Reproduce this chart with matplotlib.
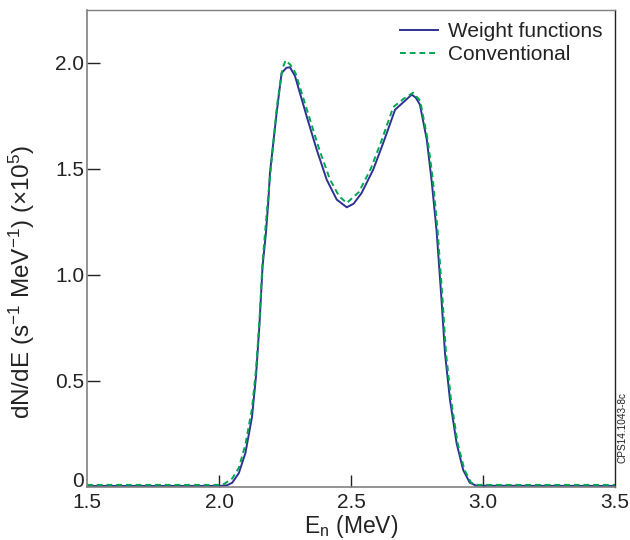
import matplotlib
matplotlib.use("Agg")
import matplotlib.pyplot as plt

plt.rcParams['font.family'] = ['Liberation Sans', 'DejaVu Sans']
plt.rcParams['mathtext.fontset'] = 'custom'
plt.rcParams['mathtext.rm'] = 'Liberation Sans'
plt.rcParams['mathtext.it'] = 'Liberation Sans:italic'

# Weight functions (solid blue)
x_wf = [1.50, 2.00, 2.03, 2.05, 2.075, 2.10, 2.125, 2.14, 2.153, 2.165, 2.178, 2.187,
        2.193, 2.218, 2.237, 2.255, 2.269, 2.288, 2.332, 2.37, 2.408, 2.446, 2.484,
        2.51, 2.54, 2.584, 2.622, 2.667, 2.70, 2.73, 2.745, 2.761, 2.787, 2.805, 2.824,
        2.843, 2.856, 2.875, 2.90, 2.925, 2.95, 2.975, 3.50]
y_wf = [0.005, 0.005, 0.008, 0.02, 0.065, 0.16, 0.33, 0.52, 0.76, 1.04, 1.20, 1.35,
        1.48, 1.76, 1.95, 1.975, 1.978, 1.936, 1.747, 1.59, 1.448, 1.354, 1.318,
        1.335, 1.385, 1.495, 1.621, 1.778, 1.815, 1.849, 1.835, 1.802, 1.637, 1.448, 1.21,
        0.88, 0.63, 0.41, 0.206, 0.08, 0.02, 0.006, 0.005]

# Conventional (dashed green)
x_cv = [1.50, 2.00, 2.02, 2.05, 2.075, 2.10, 2.125, 2.14, 2.153, 2.165, 2.187,
        2.20, 2.22, 2.24, 2.252, 2.27, 2.29, 2.34, 2.38, 2.42, 2.455, 2.484,
        2.53, 2.575, 2.615, 2.66, 2.70, 2.735, 2.762, 2.79, 2.81, 2.828,
        2.847, 2.86, 2.879, 2.904, 2.93, 2.955, 2.98, 3.50]
y_cv = [0.01, 0.01, 0.015, 0.04, 0.09, 0.20, 0.37, 0.55, 0.78, 1.06, 1.38,
        1.55, 1.80, 1.97, 2.01, 1.99, 1.95, 1.75, 1.59, 1.45, 1.37, 1.338,
        1.39, 1.50, 1.63, 1.79, 1.83, 1.858, 1.82, 1.64, 1.45, 1.21,
        0.88, 0.63, 0.41, 0.206, 0.08, 0.02, 0.01, 0.01]

x_ticks = [1.5, 2.0, 2.5, 3.0, 3.5]
x_ticklabels = ['1.5', '2.0', '2.5', '3.0', '3.5']
y_ticks = [0, 0.5, 1.0, 1.5, 2.0]
y_ticklabels = ['0', '0.5', '1.0', '1.5', '2.0']

fig = plt.figure(figsize=(6.3, 5.4), dpi=100)
ax_left, ax_right, ax_top, ax_bottom = 87, 615, 9.5, 487
ax = fig.add_axes([ax_left/630, 1 - ax_bottom/540, (ax_right-ax_left)/630, (ax_bottom-ax_top)/540])

ax.plot(x_wf, y_wf, color='#2e3192', lw=1.4, label='Weight functions')
ax.plot(x_cv, y_cv, color='#00a651', lw=1.4, ls=(0, (3, 2)), label='Conventional')

ax.set_xlim(1.5, 3.5)
ax.set_ylim(0, 2.25)
ax.set_xticks(x_ticks)
ax.set_xticklabels(x_ticklabels)
ax.set_yticks(y_ticks)
ax.set_yticklabels(y_ticklabels)
ax.tick_params(axis='both', direction='in', labelsize=15, colors='#222222', length=9, width=1)
ax.tick_params(axis='x', pad=4)
ax.tick_params(axis='y', pad=2)
# hide ticks at the plot edges (1.5, 3.5, 0)
for t in [ax.xaxis.get_major_ticks()[0], ax.xaxis.get_major_ticks()[-1]]:
    t.tick1line.set_visible(False)
ax.yaxis.get_major_ticks()[0].tick1line.set_visible(False)
ax.get_yticklabels()[0].set_va('baseline')

for s in ['left', 'bottom']:
    ax.spines[s].set_color('#808080')
    ax.spines[s].set_linewidth(1.2)
ax.spines['top'].set_color('#808080')
ax.spines['top'].set_linewidth(1.0)
ax.spines['right'].set_color('#222222')
ax.spines['right'].set_linewidth(1.0)

ax.set_xlabel(r'E$_\mathregular{n}$ (MeV)', fontsize=16.5, color='#222222', labelpad=1)
ax.set_ylabel(r'dN/dE (s$^{-1}$ MeV$^{-1}$) (×10$^{5}$)', fontsize=17.5, color='#222222')
ax.yaxis.set_label_coords((37 - ax_left) / (ax_right - ax_left),
                          (ax_bottom - 282) / (ax_bottom - ax_top))

leg = ax.legend(loc='upper right', frameon=False, fontsize=15, handlelength=1.8,
                handletextpad=0.5, labelspacing=0.2, borderaxespad=0.2)
for t in leg.get_texts():
    t.set_color('#222222')

fig.text(622/630, 1 - 463/540, 'CPS14.1043-8c', rotation=90, fontsize=7.2,
         ha='center', va='bottom', color='#222222')

fig.savefig('out.png', dpi=100)
